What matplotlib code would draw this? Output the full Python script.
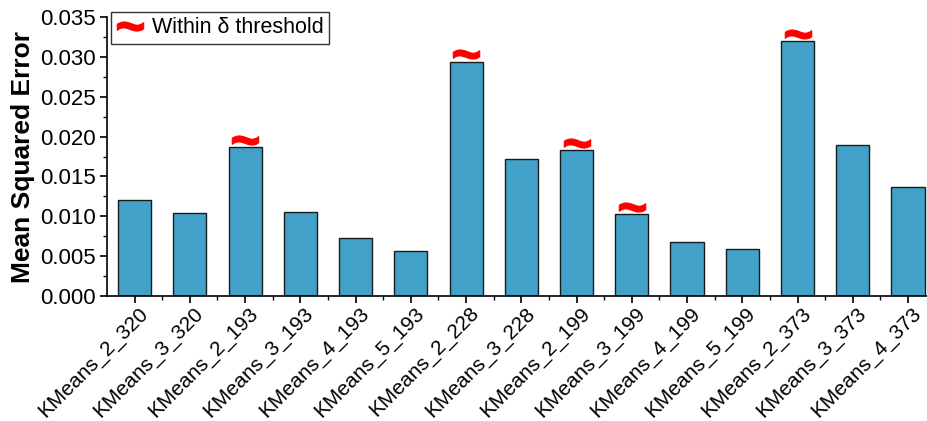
import numpy as np
import matplotlib
matplotlib.use("Agg")
import matplotlib.pyplot as plt
from matplotlib.path import Path
from matplotlib.textpath import TextPath
from matplotlib.font_manager import FontProperties
from matplotlib.ticker import MultipleLocator
import matplotlib.transforms as mtransforms

plt.rcParams['font.family'] = ['Liberation Sans', 'DejaVu Sans']

labels = ["KMeans_2_320", "KMeans_3_320", "KMeans_2_193", "KMeans_3_193",
          "KMeans_4_193", "KMeans_5_193", "KMeans_2_228", "KMeans_3_228",
          "KMeans_2_199", "KMeans_3_199", "KMeans_4_199", "KMeans_5_199",
          "KMeans_2_373", "KMeans_3_373", "KMeans_4_373"]
mse = [0.0121, 0.01045, 0.0187, 0.0105, 0.0073, 0.0056, 0.0294, 0.0172,
       0.0183, 0.0103, 0.0068, 0.0059, 0.0320, 0.0190, 0.0137]
within_delta = [False, False, True, False, False, False, True, False,
                True, True, False, False, True, False, False]

# bold tilde glyph as a centred marker
tp = TextPath((0, 0), "~", prop=FontProperties(family="Liberation Sans", weight="bold"))
ext = tp.get_extents()
verts = tp.vertices - [(ext.x0 + ext.x1) / 2, (ext.y0 + ext.y1) / 2]
verts[tp.codes == Path.CLOSEPOLY] = 0.0
verts[:, 1] *= 1.1
tilde = Path(verts, tp.codes)

fig = plt.figure(figsize=(9.28, 4.21), dpi=100)
ax = fig.add_axes([0.1153, 0.2969, 0.884, 0.6627])

x = np.arange(len(labels))
ax.bar(x, mse, width=0.6, color="#41a1c8", edgecolor="#1a1a1a", linewidth=1.0, zorder=2)

xs = [xi for xi, f in zip(x, within_delta) if f]
ys = [v + 0.0009 for v, f in zip(mse, within_delta) if f]
ax.plot(xs, ys, linestyle="none", marker=tilde, markersize=19,
        markerfacecolor="red", markeredgecolor="red", markeredgewidth=0.8,
        label="Within δ threshold", zorder=3)

ax.set_xlim(-0.5, 14.35)
ax.set_ylim(0, 0.035)
ax.yaxis.set_major_locator(MultipleLocator(0.005))
ax.yaxis.set_minor_locator(MultipleLocator(0.0025))
ax.yaxis.set_major_formatter(matplotlib.ticker.FormatStrFormatter("%.3f"))
ax.set_xticks(x)
ax.set_xticks(x[:-1] + 0.5, minor=True)
ax.set_xticklabels([])

# rotated category labels, baseline ending just right of each tick
shift = mtransforms.Affine2D().translate(14, -18)
for xi, name in zip(x, labels):
    ax.text(xi, 0, name, transform=ax.get_xaxis_transform() + shift,
            rotation=45, ha="right", va="baseline", rotation_mode="anchor",
            fontsize=15, clip_on=False)

ax.tick_params(axis="both", which="major", direction="out", length=5, width=1.2,
               colors="black", pad=3)
ax.tick_params(axis="y", which="major", labelsize=16)
ax.tick_params(axis="both", which="minor", direction="out", length=3, width=1.0)
for side in ("top", "right"):
    ax.spines[side].set_visible(False)
for side in ("left", "bottom"):
    ax.spines[side].set_linewidth(1.2)

ax.set_ylabel("Mean Squared Error", fontsize=19, fontweight="bold", labelpad=4)

leg = ax.legend(loc="upper left", bbox_to_anchor=(0.005, 1.018), fontsize=15.5,
                frameon=True, fancybox=False, edgecolor="black", handlelength=1.3,
                handletextpad=0.35, borderpad=0.25, borderaxespad=0)
leg.get_frame().set_linewidth(1.0)

fig.savefig("out.png", dpi=100)
